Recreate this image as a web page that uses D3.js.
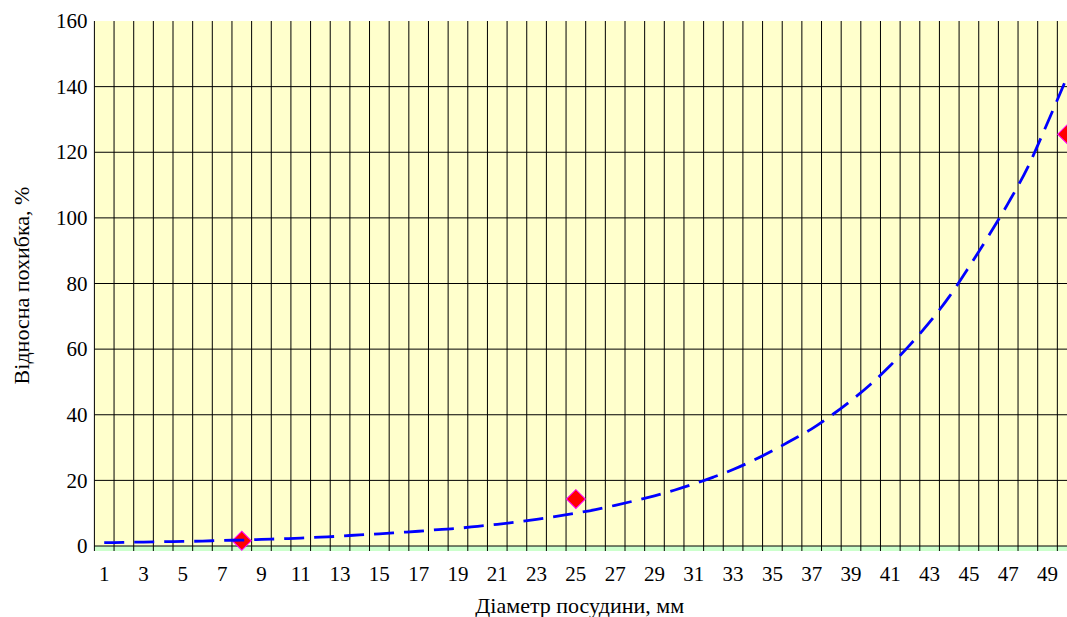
<!DOCTYPE html>
<html>
<head>
<meta charset="utf-8">
<script src="https://cdn.jsdelivr.net/npm/d3@7"></script>
<style>
  html, body { margin: 0; padding: 0; background: #ffffff; overflow: hidden; }
  svg { display: block; }
</style>
</head>
<body>
<svg id="chart" width="1067" height="617"></svg>
<script>
// ---- data ----
const categories = [1,2,3,4,5,6,7,8,9,10,11,12,13,14,15,16,17,18,19,20,
  21,22,23,24,25,26,27,28,29,30,31,32,33,34,35,36,37,38,39,40,
  41,42,43,44,45,46,47,48,49,50];
const xTickLabels = [1,3,5,7,9,11,13,15,17,19,21,23,25,27,29,31,33,35,37,39,41,43,45,47,49];
const yTickValues = [0,20,40,60,80,100,120,140,160];
const pointCats = [8, 25, 50];
const pointValues = [1.6, 14.3, 125.5];
// trend line (at each category)
const trendValues = [1.0,1.1,1.2,1.3,1.4,1.5,1.7,1.8,2.0,2.2,
  2.4,2.7,3.0,3.4,3.7,4.1,4.5,5.0,5.4,6.0,
  6.6,7.3,8.1,9.0,10.0,11.1,12.4,13.8,15.3,17.0,
  18.9,21.0,23.3,26.0,29.0,32.3,35.7,39.8,44.3,49.3,
  55.0,61.3,68.2,76.0,85.0,94.5,104.5,115.5,129.0,143.0];
const xTitle = "Діаметр посудини, мм";
const yTitle = "Відносна похибка, %";

// ---- layout ----
const plotLeft = 94.4, plotRight = 1077, plotTop = 21, plotBottom = 546, floorH = 5;
const FONT = '"Liberation Serif", "Times New Roman", Times, "DejaVu Serif", serif';

const svg = d3.select("#chart");
const x = d3.scaleBand().domain(categories).range([plotLeft, plotRight]).padding(0);
const bw = x.bandwidth();
const cx = c => x(c) + bw / 2;
const y = d3.scaleLinear().domain([0, 160]).range([plotBottom, plotTop]);

// plot background
svg.append("rect").attr("x", plotLeft).attr("y", plotTop)
  .attr("width", plotRight - plotLeft).attr("height", plotBottom - plotTop)
  .attr("fill", "#ffffcc");
// floor band
svg.append("rect").attr("x", plotLeft).attr("y", plotBottom)
  .attr("width", plotRight - plotLeft).attr("height", floorH)
  .attr("fill", "#ccffcc");

// horizontal gridlines
svg.append("g").selectAll("line").data(yTickValues.filter(v => v < 160)).join("line")
  .attr("x1", plotLeft).attr("x2", plotRight)
  .attr("y1", d => y(d)).attr("y2", d => y(d))
  .attr("stroke", "#000").attr("stroke-width", 1);

// vertical gridlines at category boundaries
const boundaries = categories.map(c => x(c)).concat([plotRight]);
svg.append("g").selectAll("line").data(boundaries).join("line")
  .attr("x1", d => d).attr("x2", d => d)
  .attr("y1", plotTop).attr("y2", plotBottom + floorH)
  .attr("stroke", "#000").attr("stroke-width", 1);

// y axis
const yAxis = svg.append("g").attr("transform", `translate(${plotLeft},0)`)
  .call(d3.axisLeft(y).tickValues(yTickValues).tickSize(0).tickPadding(7));
yAxis.attr("font-family", FONT).attr("font-size", 21);
yAxis.select(".domain").remove();
yAxis.selectAll("text").attr("fill", "#000");

// x axis
const xAxis = svg.append("g").attr("transform", `translate(0,${plotBottom + floorH})`)
  .call(d3.axisBottom(x).tickValues(xTickLabels).tickSize(0).tickPadding(15));
xAxis.attr("font-family", FONT).attr("font-size", 21);
xAxis.select(".domain").remove();
xAxis.selectAll("text").attr("fill", "#000");

// markers
const points = pointCats.map((c, i) => ({c: c, v: pointValues[i]}));
svg.append("g").selectAll("path").data(points).join("path")
  .attr("d", d3.symbol(d3.symbolSquare, 180))
  .attr("transform", d => `translate(${cx(d.c)},${y(d.v)}) rotate(45)`)
  .attr("fill", "#ff0000").attr("stroke", "#ff00ff").attr("stroke-width", 1);

// trend line
const line = d3.line().x((d, i) => cx(categories[i])).y(d => y(d)).curve(d3.curveMonotoneX);
svg.append("path").datum(trendValues)
  .attr("d", line)
  .attr("fill", "none").attr("stroke", "#0000ff").attr("stroke-width", 2.8)
  .attr("stroke-dasharray", "20,10");

// titles
svg.append("text").attr("x", (plotLeft + plotRight) / 2 - 6).attr("y", 613)
  .attr("text-anchor", "middle").attr("font-family", FONT).attr("font-size", 22).attr("fill", "#000").text(xTitle);
svg.append("text").attr("transform", `translate(29,${(plotTop + plotBottom) / 2 + 2}) rotate(-90)`)
  .attr("text-anchor", "middle").attr("font-family", FONT).attr("font-size", 22).attr("fill", "#000").text(yTitle);
</script>
</body>
</html>
